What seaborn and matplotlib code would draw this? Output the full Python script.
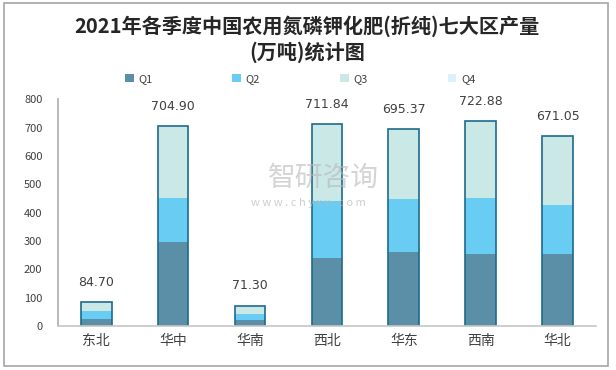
import matplotlib
matplotlib.use("Agg")
import matplotlib.pyplot as plt
import numpy as np
import pandas as pd
import seaborn as sns
from matplotlib.patches import Rectangle, Patch

# --------------------------------------
# Data (万吨)
# --------------------------------------
regions = ["东北", "华中", "华南", "西北", "华东", "西南", "华北"]
q1 = [25, 296, 22, 240, 261, 254, 254]
q2 = [28, 157, 21, 201, 187, 199, 173]
q3 = [31.70, 251.90, 28.30, 270.84, 247.37, 269.88, 244.05]
q4 = [0, 0, 0, 0, 0, 0, 0]
totals = [84.70, 704.90, 71.30, 711.84, 695.37, 722.88, 671.05]

quarters = ["Q1", "Q2", "Q3", "Q4"]
colors = ["#5b8fa7", "#69cdf3", "#cae8e5", "#dcf1fb"]
edge = "#1d6b8c"
txt = "#404040"

sns.set_theme(style="white")
plt.rcParams['font.family'] = ['Noto Sans CJK SC', 'DejaVu Sans']

fig = plt.figure(figsize=(6.16, 3.70), dpi=100)
ax = fig.add_axes([0.0937, 0.1189, 0.874, 0.6127])

df = pd.DataFrame({"region": regions, "Q1": q1, "Q2": q2, "Q3": q3, "Q4": q4})
bottom = np.zeros(len(regions))
for q, c in zip(quarters, colors):
    sns.barplot(data=df, x="region", y=q, bottom=bottom, color=c, width=0.4,
                saturation=1, linewidth=0, ax=ax)
    bottom = bottom + df[q].to_numpy()

# outline around the stacked total
sns.barplot(x=regions, y=totals, fill=False, color=edge, width=0.4,
            linewidth=1.2, ax=ax)

for i, t in enumerate(totals):
    ax.text(i, t + 70, "%.2f" % t, ha="center", va="center", fontsize=9,
            color=txt, family=['DejaVu Sans'])

ax.set_xlim(-0.5, len(regions) - 0.5)
ax.set_ylim(0, 800)
ax.set_yticks(range(0, 801, 100))
ax.set_xlabel("")
ax.set_ylabel("")
ax.tick_params(axis="y", labelsize=8, colors=txt, length=0, pad=11)
ax.tick_params(axis="x", labelsize=10, colors=txt, length=0, pad=6)
ax.set_xticks(np.arange(len(regions)))
ax.set_xticklabels(regions)
# category boundary ticks on the bottom axis
ax.set_xticks(np.arange(-0.5, len(regions) + 0.5, 1), minor=True)
ax.tick_params(axis="x", which="minor", length=4, color="#c8c8c8", direction="out")
for s in ["top", "right"]:
    ax.spines[s].set_visible(False)
ax.spines["left"].set_color("#b0b0b0")
ax.spines["bottom"].set_color("#c8c8c8")
ax.grid(False)

# title
fig.text(0.498, 0.930, "2021年各季度中国农用氮磷钾化肥(折纯)七大区产量",
         ha="center", va="center", fontsize=14.5, fontweight="bold", color="#262626")
fig.text(0.498, 0.860, "(万吨)统计图",
         ha="center", va="center", fontsize=14.5, fontweight="bold", color="#262626")

# legend
handles = [Patch(facecolor=c, edgecolor="none") for c in colors]
fig.legend(handles, quarters, loc="center", bbox_to_anchor=(0.487, 0.787), ncol=4,
           frameon=False, fontsize=8, handlelength=0.8, handleheight=0.8,
           handletextpad=0.4, columnspacing=7.2, labelcolor=txt)

# watermark
fig.text(0.525, 0.52, "智研咨询", ha="center", va="center", fontsize=20,
         color="#b8b8b8", alpha=0.6)
fig.text(0.50, 0.45, "w w w . c h y x x . c o m", ha="center", va="center",
         fontsize=8, color="#b8b8b8", alpha=0.7)

# outer frame
fig.patches.append(Rectangle((0.007, 0.011), 0.980, 0.980, transform=fig.transFigure,
                             fill=False, edgecolor="#a6a6a6", linewidth=1.2))

fig.savefig("out.png", dpi=100)
